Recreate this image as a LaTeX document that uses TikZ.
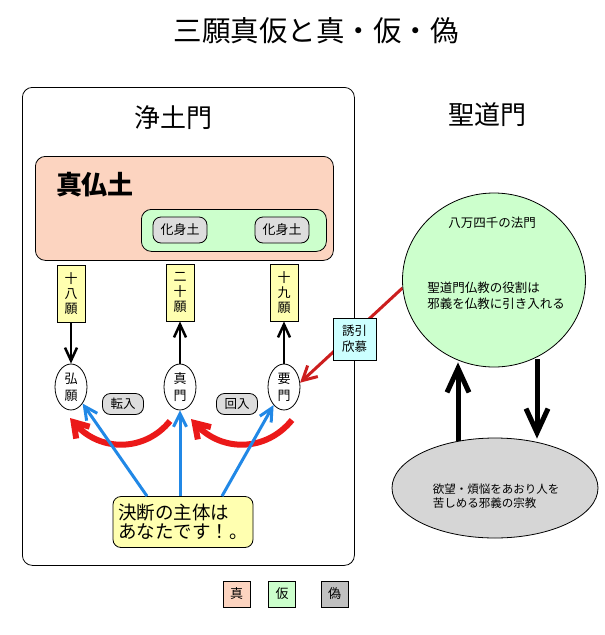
\documentclass[tikz,border=0pt]{standalone}
\usepackage{fontspec}
\newfontfamily\jp{Noto Sans CJK JP}
\usetikzlibrary{arrows.meta,shapes.geometric,calc,backgrounds}
\definecolor{shin}{RGB}{252,212,192}
\definecolor{ke}{RGB}{204,255,204}
\definecolor{gi}{RGB}{192,192,192}
\definecolor{pillc}{RGB}{221,221,221}
\definecolor{yel}{RGB}{255,255,176}
\definecolor{cyanb}{RGB}{204,255,255}
\definecolor{blu}{RGB}{33,136,230}
\definecolor{rd}{RGB}{235,25,25}
\definecolor{drd}{RGB}{204,30,30}
\definecolor{grayb}{RGB}{214,214,214}
\newcommand\fz[2]{\fontsize{#1}{#2}\selectfont}
\begin{document}
\begin{tikzpicture}[x=1pt,y=-1pt,
  every node/.style={font=\jp\fz{13}{16}, inner sep=0pt},
  outl/.style={draw, line width=0.8pt},
  pillbox/.style={outl, fill=pillc, rounded corners=8},
  yelbox/.style={outl, fill=yel, minimum width=28, minimum height=57, align=center, font=\jp\fz{13}{15}},
  gate/.style={outl, ellipse, fill=white, minimum width=32, minimum height=46, align=center, font=\jp\fz{13}{17}},
  blk/.style={line width=2.5pt, -{Straight Barb[length=13pt,width=12pt]}},
  bigblk/.style={line width=5pt, -{Straight Barb[length=24pt,width=22pt]}},
  bluarr/.style={blu, line width=3pt, -{Straight Barb[length=13pt,width=13pt]}},
  redcurve/.style={rd, line width=6pt, -{Straight Barb[length=14pt,width=18pt]}},
  redthin/.style={drd, line width=3pt, -{Straight Barb[length=14pt,width=15pt]}},
  legbox/.style={outl, minimum width=27, minimum height=26}
]
\useasboundingbox (0,0) rectangle (605,635);

% title
\node[font=\jp\fz{28.5}{34}] (title) at (316,31) {三願真仮と真・仮・偽};

% Jodo-mon frame
\node[outl, rounded corners=10, minimum width=332, minimum height=478, anchor=north west] (jodo) at (22,87) {};
\node[font=\jp\fz{26}{30}] (jodolbl) at (173,118) {浄土門};
\node[font=\jp\fz{26}{30}] (seidolbl) at (487,115) {聖道門};

% True Buddha land
\node[outl, fill=shin, rounded corners=10, minimum width=298, minimum height=104, anchor=north west] (shinbutsu) at (35,156) {};
\node[font=\jp\bfseries\fz{26}{30}] (sbl) at (95,185) {真仏土};
\node[outl, fill=ke, rounded corners=10, minimum width=185, minimum height=42, anchor=north west] (kebox) at (141,209) {};
\node[pillbox, minimum width=54, minimum height=26] (ke1) at (180,230) {化身土};
\node[pillbox, minimum width=54, minimum height=26] (ke2) at (282,230) {化身土};

% vows
\node[yelbox] (b18) at (71,293.5) {十\\八\\願};
\node[yelbox] (b20) at (180,292.5) {二\\十\\願};
\node[yelbox] (b19) at (284,292.5) {十\\九\\願};

% gates
\node[gate] (kougan) at (71,387) {弘\\願};
\node[gate] (shinmon) at (180,387) {真\\門};
\node[gate] (yomon) at (284,387) {要\\門};

\draw[blk] (b18.south) -- (kougan.north);
\draw[blk] (shinmon.north) -- (b20.south);
\draw[blk] (yomon.north) -- (b19.south);

% tennyu / enyu
\node[pillbox, minimum width=41, minimum height=21, font=\jp\fz{12.5}{15}] (tennyu) at (123,404) {転入};
\node[pillbox, minimum width=41, minimum height=21, font=\jp\fz{12.5}{15}] (enyu) at (237,404) {回入};

% decision box
\node[outl, fill=yel, rounded corners=8, minimum width=140, minimum height=51, align=left, font=\jp\fz{18.5}{19}] (kd) at (183,522) {決断の主体は\\あなたです！。};

% Shodo-mon circle
\node[outl, ellipse, fill=ke, minimum width=183, minimum height=174] (seido) at (494,280) {};
\node[font=\jp\fz{12.5}{16}] (hachiman) at (492,223) {八万四千の法門};
\node[align=left, font=\jp\fz{12.5}{16}] (yakuwari) at (496,296) {聖道門仏教の役割は\\邪義を仏教に引き入れる};

% false religion
\node[outl, ellipse, fill=grayb, minimum width=206, minimum height=100] (jagi) at (495,488) {};
\node[align=left, font=\jp\fz{11.5}{14}] (jagitxt) at (496,496) {欲望・煩悩をあおり人を\\苦しめる邪義の宗教};

% yuuin box
\node[outl, fill=cyanb, minimum width=43, minimum height=42, align=center, font=\jp\fz{12.5}{16}] (yuuin) at (354.5,339) {誘引\\欣慕};

\begin{pgfonlayer}{background}
\draw[redthin] (seido.185) -- (yomon.15);
\end{pgfonlayer}

% big black arrows
\draw[bigblk] ($(jagi.north)+(-37,3)$) -- ($(seido.south)+(-36,-5)$);
\draw[bigblk] ($(seido.south)+(43,-8)$) -- ($(jagi.north)+(42,1)$);

% red curved arrows
\coordinate (r1s) at (170,421);
\coordinate (r1e) at (70,418);
\coordinate (r2s) at (292,420);
\coordinate (r2e) at (191,419);
\draw[redcurve] (r1s) .. controls (145,452) and (100,452) .. (r1e);
\draw[redcurve] (r2s) .. controls (266,452) and (222,452) .. (r2e);

% blue arrows
\draw[bluarr] ($(kd.north)+(-36,0)$) -- (kougan.-55);
\draw[bluarr] (kd.north -| shinmon.south) -- (shinmon.south);
\draw[bluarr] ($(kd.north)+(39,0)$) -- (yomon.-120);

% legend
\node[legbox, fill=shin] (lshin) at (236.5,594) {真};
\node[legbox, fill=ke] (lke) at (282,594) {仮};
\node[legbox, fill=gi] (lgi) at (334.5,594) {偽};
\end{tikzpicture}
\end{document}
